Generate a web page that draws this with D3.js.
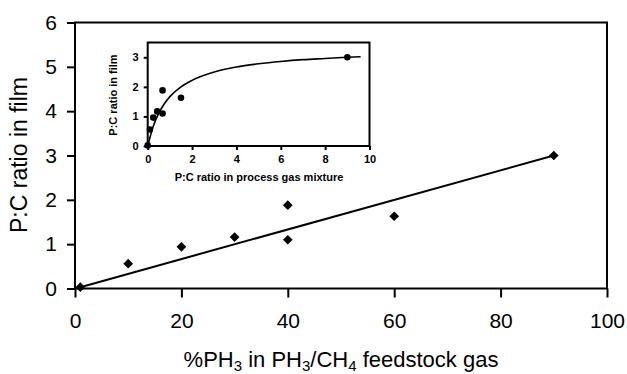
<!DOCTYPE html>
<html>
<head>
<meta charset="utf-8">
<script src="https://cdn.jsdelivr.net/npm/d3@7"></script>
<style>
  body { margin: 0; background: #fff; }
  text { font-family: Arial, "Liberation Sans", sans-serif; fill: #000; }
</style>
</head>
<body>
<div id="container"></div>
<script>
// main plot: %PH3 in feed vs P:C ratio in film
const feedPct = [1, 10, 20, 30, 40, 40, 60, 90]
const filmRatio = [0.03, 0.56, 0.94, 1.16, 1.88, 1.1, 1.63, 3.0]
const fitX = [1, 90]
const fitY = [0.03, 3.0]
const mainXTicks = [0, 20, 40, 60, 80, 100]
const mainYTicks = [0, 1, 2, 3, 4, 5, 6]

// inset: P:C ratio in process gas vs film
const gasRatio = [0, 0.1, 0.25, 0.43, 0.67, 0.67, 1.5, 9.0]
const insetFilm = [0.02, 0.56, 0.96, 1.17, 1.88, 1.1, 1.63, 3.0]
const curveX = [0, 0.25, 0.5, 0.75, 1, 1.5, 2, 3, 4, 5, 6, 7, 8, 9, 9.6]
const curveY = [0, 0.67, 1.11, 1.43, 1.67, 2.0, 2.22, 2.5, 2.67, 2.78, 2.86, 2.92, 2.96, 3.0, 3.02]
const insetXTicks = [0, 2, 4, 6, 8, 10]
const insetYTicks = [0, 1, 2, 3]

const svg = d3.select('#container').append('svg')
  .attr('width', 627)
  .attr('height', 374)

const x = d3.scaleLinear().domain([0, 100]).range([75, 607])
const y = d3.scaleLinear().domain([0, 6]).range([288.5, 22.5])

// frame
svg.append('rect')
  .attr('x', x(0)).attr('y', y(6))
  .attr('width', x(100) - x(0)).attr('height', y(0) - y(6))
  .attr('fill', 'none').attr('stroke', '#000').attr('stroke-width', 2)

const xAxis = svg.append('g')
  .attr('transform', `translate(0,${y(0)})`)
  .call(d3.axisBottom(x).tickValues(mainXTicks).tickFormat(d3.format('d')).tickSize(9).tickPadding(16))
xAxis.select('.domain').remove()
xAxis.selectAll('line').attr('stroke-width', 2)
xAxis.selectAll('text').style('font-size', '21px')

const yAxis = svg.append('g')
  .attr('transform', `translate(${x(0)},0)`)
  .call(d3.axisLeft(y).tickValues(mainYTicks).tickFormat(d3.format('d')).tickSize(8).tickPadding(10))
yAxis.select('.domain').remove()
yAxis.selectAll('line').attr('stroke-width', 2)
yAxis.selectAll('text').style('font-size', '21px')

// fit line
svg.append('path')
  .datum(fitX.map((d, i) => [d, fitY[i]]))
  .attr('d', d3.line().x(d => x(d[0])).y(d => y(d[1])))
  .attr('fill', 'none').attr('stroke', '#000').attr('stroke-width', 2)

svg.selectAll('.diamond')
  .data(feedPct.map((d, i) => [d, filmRatio[i]]))
  .enter()
  .append('path')
  .attr('class', 'diamond')
  .attr('transform', d => `translate(${x(d[0])},${y(d[1])})`)
  .attr('d', d3.symbol().type(d3.symbolDiamond2).size(60))
  .attr('fill', '#000')

svg.append('text')
  .attr('transform', 'translate(27,155) rotate(-90)')
  .attr('text-anchor', 'middle')
  .style('font-size', '23px')
  .text('P:C ratio in film')

const xt = svg.append('text')
  .attr('x', 341).attr('y', 367)
  .attr('text-anchor', 'middle')
  .style('font-size', '22px')
xt.append('tspan').text('%PH')
xt.append('tspan').attr('dy', 4).style('font-size', '15px').text('3')
xt.append('tspan').attr('dy', -4).text(' in PH')
xt.append('tspan').attr('dy', 4).style('font-size', '15px').text('3')
xt.append('tspan').attr('dy', -4).text('/CH')
xt.append('tspan').attr('dy', 4).style('font-size', '15px').text('4')
xt.append('tspan').attr('dy', -4).text(' feedstock gas')

// inset
const ix = d3.scaleLinear().domain([0, 10]).range([147.7, 369.5])
const iy = d3.scaleLinear().domain([0, 3.5]).range([146, 42.5])

svg.append('rect')
  .attr('x', ix(0)).attr('y', iy(3.5))
  .attr('width', ix(10) - ix(0)).attr('height', iy(0) - iy(3.5))
  .attr('fill', '#fff').attr('stroke', '#000').attr('stroke-width', 2)

const ixAxis = svg.append('g')
  .attr('transform', `translate(0,${iy(0)})`)
  .call(d3.axisBottom(ix).tickValues(insetXTicks).tickFormat(d3.format('d')).tickSize(4).tickPadding(5))
ixAxis.select('.domain').remove()
ixAxis.selectAll('line').attr('stroke-width', 2)
ixAxis.selectAll('text').style('font-size', '11px').style('font-weight', 'bold')

const iyAxis = svg.append('g')
  .attr('transform', `translate(${ix(0)},0)`)
  .call(d3.axisLeft(iy).tickValues(insetYTicks).tickFormat(d3.format('d')).tickSize(4).tickPadding(5))
iyAxis.select('.domain').remove()
iyAxis.selectAll('line').attr('stroke-width', 2)
iyAxis.selectAll('text').style('font-size', '11px').style('font-weight', 'bold')

svg.append('path')
  .datum(curveX.map((d, i) => [d, curveY[i]]))
  .attr('d', d3.line().curve(d3.curveMonotoneX).x(d => ix(d[0])).y(d => iy(d[1])))
  .attr('fill', 'none').attr('stroke', '#000').attr('stroke-width', 1.6)

svg.selectAll('.dot')
  .data(gasRatio.map((d, i) => [d, insetFilm[i]]))
  .enter()
  .append('circle')
  .attr('class', 'dot')
  .attr('cx', d => ix(d[0]))
  .attr('cy', d => iy(d[1]))
  .attr('r', 3.3)
  .attr('fill', '#000')

svg.append('text')
  .attr('x', 259).attr('y', 181)
  .attr('text-anchor', 'middle')
  .style('font-size', '11px').style('font-weight', 'bold')
  .text('P:C ratio in process gas mixture')

svg.append('text')
  .attr('transform', 'translate(117,95) rotate(-90)')
  .attr('text-anchor', 'middle')
  .style('font-size', '11px').style('font-weight', 'bold')
  .text('P:C ratio in film')
</script>
</body>
</html>
